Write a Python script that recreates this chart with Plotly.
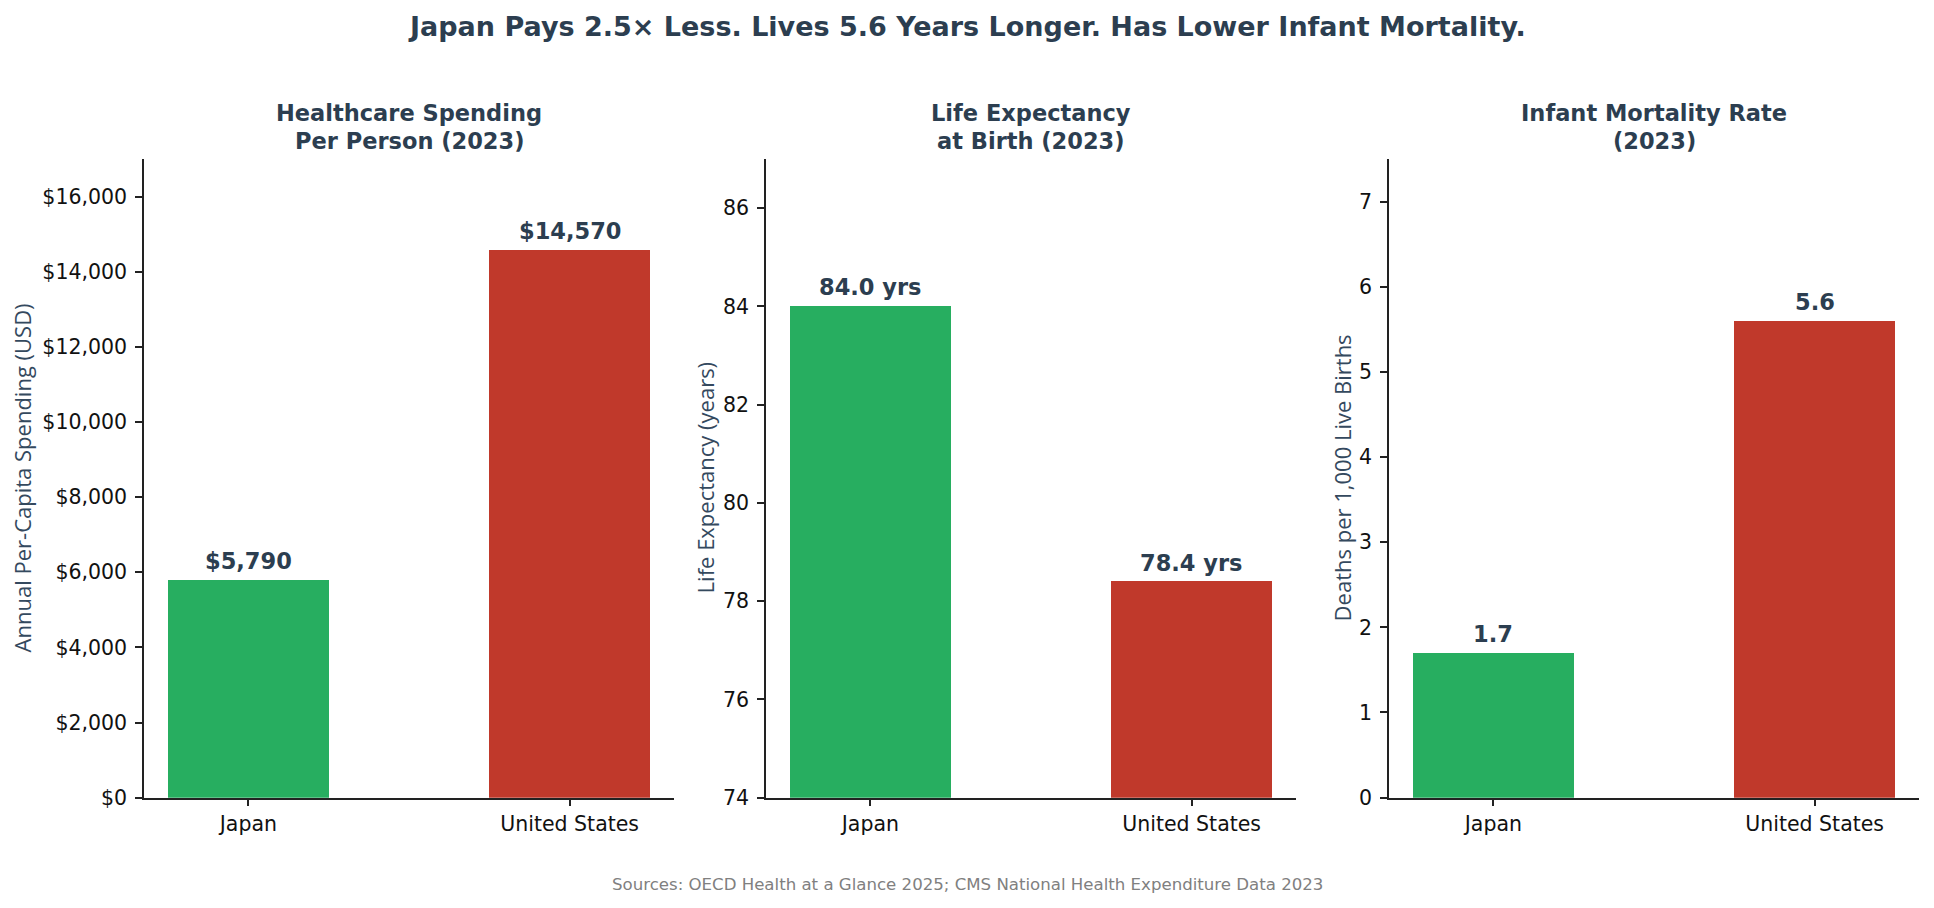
import plotly.graph_objects as go

countries = ["Japan", "United States"]
spending = [5790, 14570]
life_expectancy = [84.0, 78.4]
infant_mortality = [1.7, 5.6]

spending_labels = ["$5,790", "$14,570"]
life_labels = ["84.0 yrs", "78.4 yrs"]
infant_labels = ["1.7", "5.6"]

bar_colors = ["#27ae60", "#c0392b"]
dark = "#2c3e50"

panel_titles = [("Healthcare Spending", "Per Person (2023)"),
                ("Life Expectancy", "at Birth (2023)"),
                ("Infant Mortality Rate", "(2023)")]
y_titles = ["Annual Per-Capita Spending (USD)",
            "Life Expectancy (years)",
            "Deaths per 1,000 Live Births"]

W, H = 1934, 908
K = 1 / 0.986  # vertical compensation observed in rendering


def yf(px):
    return 1 - px * K / H


x_domains = [(144 / W, 674 / W), (766 / W, 1296 / W), (1389 / W, 1919 / W)]
y_domain = (yf(797), yf(159))
y_ranges = [(0, 17000), (74, 87), (0, 7.5)]
y_dticks = [2000, 2, 1]
y_tick0 = [0, 74, 0]
ytitle_x = [22, 705, 1342]

series = [spending, life_expectancy, infant_mortality]
labels = [spending_labels, life_labels, infant_labels]

fig = go.Figure()
annotations = []
FONT = "DejaVu Sans"

for i in range(3):
    sfx = "" if i == 0 else str(i + 1)
    fig.add_trace(go.Bar(
        x=countries, y=series[i], width=0.5,
        marker=dict(color=bar_colors, line=dict(width=0)),
        xaxis="x" + sfx, yaxis="y" + sfx, showlegend=False,
        hoverinfo="x+y",
    ))
    axis_common = dict(
        showline=True, linecolor="#222222", linewidth=1.5, mirror=False,
        ticks="outside", ticklen=7, tickwidth=1.5, tickcolor="#222222",
        showgrid=False, zeroline=False,
        tickfont=dict(family=FONT, size=20.5, color="#111111"),
    )
    fig.update_layout(**{
        "xaxis" + sfx: dict(
            domain=list(x_domains[i]), anchor="y" + sfx,
            type="category", range=[-0.325, 1.325], ticklabelstandoff=0,
            **axis_common),
        "yaxis" + sfx: dict(
            domain=list(y_domain), anchor="x" + sfx,
            range=list(y_ranges[i]), dtick=y_dticks[i], tick0=y_tick0[i],
            tickprefix="$" if i == 0 else "", tickformat="," if i == 0 else "",
            ticklabelstandoff=4,
            **axis_common),
    })
    xc = (x_domains[i][0] + x_domains[i][1]) / 2
    for line_text, ypx in zip(panel_titles[i], (113, 141)):
        annotations.append(dict(
            text="<b>" + line_text + "</b>", x=xc, y=yf(ypx),
            xref="paper", yref="paper", xanchor="center", yanchor="middle",
            showarrow=False, font=dict(family=FONT, size=22.5, color=dark)))
    annotations.append(dict(
        text=y_titles[i], x=ytitle_x[i] / W, y=(y_domain[0] + y_domain[1]) / 2,
        xref="paper", yref="paper", xanchor="center", yanchor="middle",
        textangle=-90, showarrow=False,
        font=dict(family="Open Sans", size=22, color="#34495e")))
    for c, v, lab in zip(countries, series[i], labels[i]):
        annotations.append(dict(
            text="<b>" + lab + "</b>", x=c, y=v,
            xref="x" + sfx, yref="y" + sfx, xanchor="center", yanchor="bottom",
            yshift=4, showarrow=False,
            font=dict(family=FONT, size=22.5, color=dark)))

annotations.append(dict(
    text="<b>Japan Pays 2.5× Less. Lives 5.6 Years Longer. Has Lower Infant Mortality.</b>",
    x=0.5, y=yf(26), xref="paper", yref="paper",
    xanchor="center", yanchor="middle", showarrow=False,
    font=dict(family=FONT, size=27, color=dark)))
annotations.append(dict(
    text="Sources: OECD Health at a Glance 2025; CMS National Health Expenditure Data 2023",
    x=0.5, y=yf(884), xref="paper", yref="paper",
    xanchor="center", yanchor="middle", showarrow=False,
    font=dict(family=FONT, size=16.6, color="#808080")))

fig.update_layout(
    width=W, height=H,
    margin=dict(l=0, r=0, t=0, b=0),
    paper_bgcolor="white", plot_bgcolor="white",
    annotations=annotations,
    bargap=0,
    font=dict(family=FONT),
)

fig.write_html("out.html", config={"displayModeBar": False})
